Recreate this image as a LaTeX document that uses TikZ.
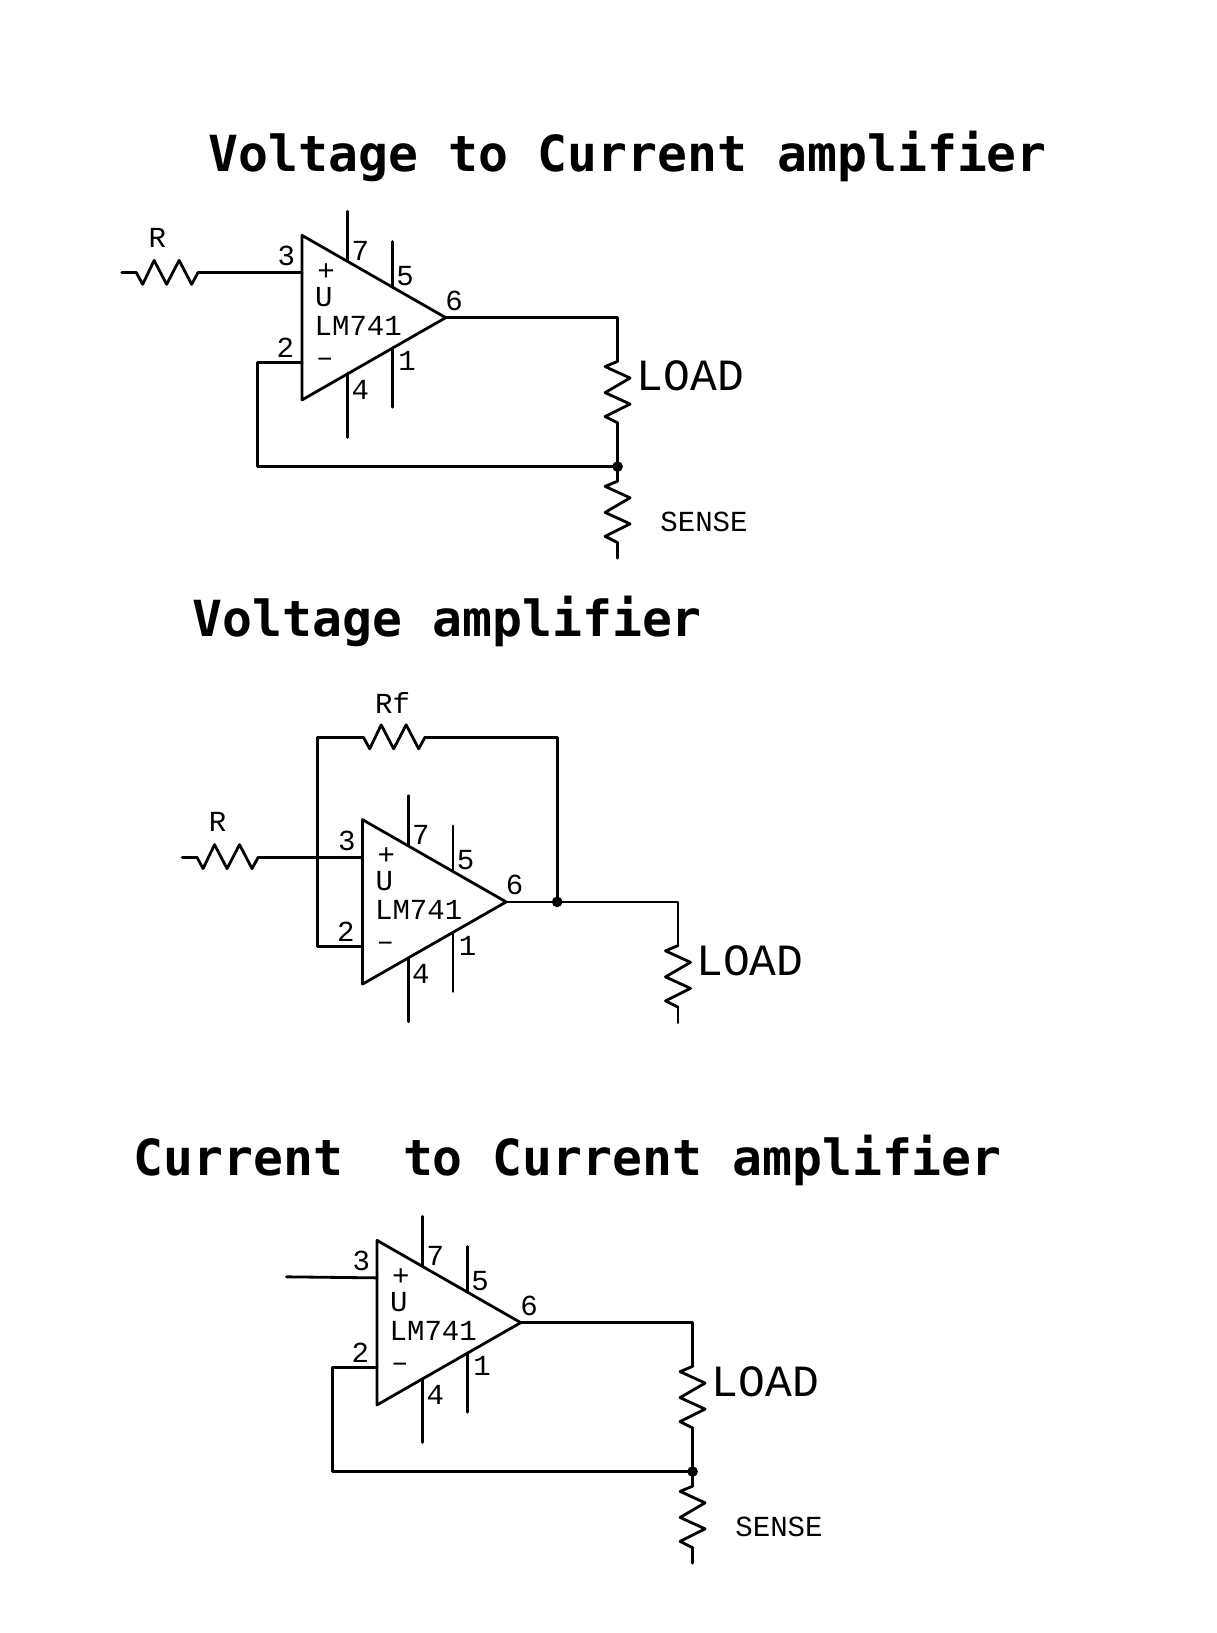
\documentclass[tikz,border=0pt]{standalone}
\usepackage{fontspec}
\newfontfamily\titlefont{DejaVu Sans Mono}[BoldFont={DejaVu Sans Mono Bold}]
\newfontfamily\labelfont{Liberation Mono}
\tikzset{
  wire/.style={line width=2.1pt,line cap=round,line join=round,black},
  titletext/.style={inner sep=0pt,anchor=base west,font=\titlefont\bfseries\fontsize{37.3}{40}\selectfont},
  biglabel/.style={inner sep=0pt,font=\labelfont\fontsize{33.5}{36}\selectfont},
  smalllabel/.style={inner sep=0pt,font=\labelfont\fontsize{21.8}{24}\selectfont},
  junction/.style={circle,fill=black,draw=none,minimum size=8pt,inner sep=0pt},
  opamp/.pic={
    \coordinate (-inp) at (0,36);
    \coordinate (-inm) at (0,122);
    \coordinate (-out) at (138,79);
    \draw[wire] (0,0) -- (-out) -- (0,158) -- cycle;
    \coordinate (-p7a) at (44,-23); \coordinate (-p7b) at (44,25);
    \coordinate (-p5a) at (87,6);   \coordinate (-p5b) at (87,50);
    \coordinate (-p4a) at (44,133); \coordinate (-p4b) at (44,194);
    \coordinate (-p1a) at (87,108); \coordinate (-p1b) at (87,165);
    \draw[wire] (-p7a) -- (-p7b);
    \draw[wire] (-p5a) -- (-p5b);
    \draw[wire] (-p4a) -- (-p4b);
    \draw[wire] (-p1a) -- (-p1b);
    \node[smalllabel] (-n3) at (-15,20) {3};
    \node[smalllabel] (-n2) at (-16,108) {2};
    \node[smalllabel] (-n7) at (56,15) {7};
    \node[smalllabel] (-n5) at (99,39) {5};
    \node[smalllabel] (-n6) at (146,63) {6};
    \node[smalllabel] (-n1) at (101,121) {1};
    \node[smalllabel] (-n4) at (56,148) {4};
    \node[smalllabel] (-plus) at (23,35) {+};
    \node[smalllabel] (-minus) at (22,122) {–};
    \node[smalllabel] (-u) at (21,59) {U};
    \node[smalllabel] (-part) at (54,87) {LM741};
  },
  vres/.pic={
    \coordinate (-a) at (0,0);
    \coordinate (-b) at (0,59);
    \draw[wire] (-a) -- (-12,5) -- (12,16) -- (-12,30) -- (12,41) -- (-12,53) -- (-b);
  },
  hres/.pic={
    \coordinate (-a) at (0,0);
    \coordinate (-b) at (59,0);
    \draw[wire] (-a) -- (6,11) -- (17,-12) -- (29,11) -- (41,-12) -- (53,11) -- (-b);
  },
}
\begin{document}
\begin{tikzpicture}[x=0.7811pt,y=-0.7811pt]
\path[use as bounding box,fill=white] (0,0) rectangle (1168.5,1568);

% --- titles
\node[titletext] (t1) at (200,165) {Voltage to Current amplifier};
\node[titletext] (t2) at (185,611) {Voltage amplifier};
\node[titletext] (t3) at (128,1129) {Current\ \ to Current amplifier};

% --- circuit 1
\pic (A) at (290,226) {opamp};
\pic (Ari) at (131,262) {hres};
\coordinate (Ain) at (117,262);
\draw[wire] (Ain) -- (Ari-a);
\draw[wire] (Ari-b) -- (A-inp);
\node[smalllabel] (Ar) at (151,228) {R};
\coordinate (Atr) at (593,305);
\pic (Al) at (593,347) {vres};
\node (Aj) [junction] at (593,448) {};
\pic (As) at (593,462) {vres};
\coordinate (Aend) at (593,536);
\coordinate (Afb1) at (247,348);
\coordinate (Afb2) at (247,448);
\draw[wire] (A-out) -- (Atr) -- (Al-a);
\draw[wire] (Al-b) -- (Aj.center) -- (As-a);
\draw[wire] (As-b) -- (Aend);
\draw[wire] (A-inm) -- (Afb1) -- (Afb2) -- (Aj.center);
\node[biglabel] (Aload) at (663,361) {LOAD};
\node[smalllabel] (Asense) at (676,501) {SENSE};

% --- circuit 2
\pic (B) at (348,787) {opamp};
\pic (Bri) at (189,823) {hres};
\coordinate (Bin) at (175,823);
\draw[wire] (Bin) -- (Bri-a);
\draw[wire] (Bri-b) -- (B-inp);
\node[smalllabel] (Br) at (209,789) {R};
\pic (Brf) at (349,708) {hres};
\coordinate (Bfl) at (305,708);
\coordinate (Bfm) at (305,909);
\coordinate (Bfr) at (535,708);
\node (Bj) [junction] at (535,866) {};
\draw[wire] (B-inm) -- (Bfm) -- (Bfl) -- (Brf-a);
\draw[wire] (Brf-b) -- (Bfr) -- (Bj.center);
\node[smalllabel] (Brft) at (377,675) {Rf};
\coordinate (Btr) at (651,866);
\pic (Bl) at (651,908) {vres};
\coordinate (Bend) at (651,982);
\draw[wire] (B-out) -- (Bj.center) -- (Btr) -- (Bl-a);
\draw[wire] (Bl-b) -- (Bend);
\node[biglabel] (Bload) at (720,923) {LOAD};

% --- circuit 3
\pic (C) at (362,1191) {opamp};
\coordinate (Cin) at (275,1226);
\draw[wire] (Cin) -- (C-inp);
\coordinate (Ctr) at (665,1270);
\pic (Cl) at (665,1312) {vres};
\node (Cj) [junction] at (665,1413) {};
\pic (Cs) at (665,1427) {vres};
\coordinate (Cend) at (665,1501);
\coordinate (Cfb1) at (319,1313);
\coordinate (Cfb2) at (319,1413);
\draw[wire] (C-out) -- (Ctr) -- (Cl-a);
\draw[wire] (Cl-b) -- (Cj.center) -- (Cs-a);
\draw[wire] (Cs-b) -- (Cend);
\draw[wire] (C-inm) -- (Cfb1) -- (Cfb2) -- (Cj.center);
\node[biglabel] (Cload) at (735,1327) {LOAD};
\node[smalllabel] (Csense) at (748,1466) {SENSE};
\end{tikzpicture}
\end{document}
